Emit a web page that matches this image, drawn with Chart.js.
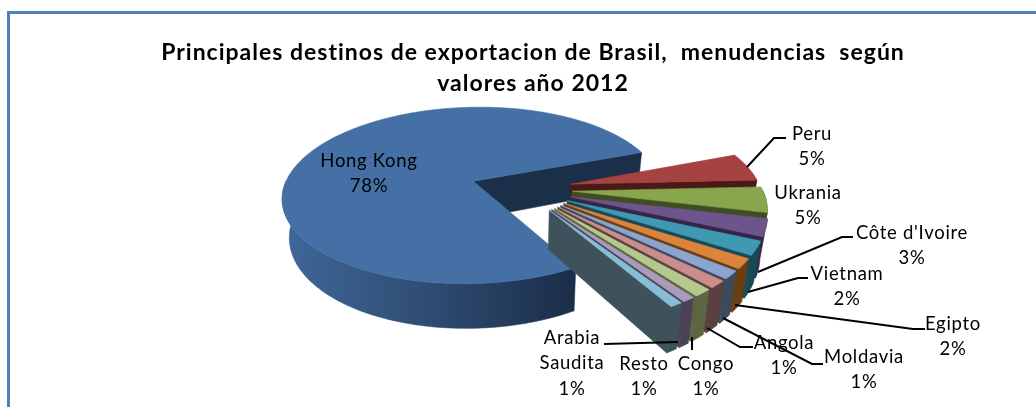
<!DOCTYPE html>
<html>
<head>
<meta charset="utf-8">
<style>
html,body{margin:0;padding:0;background:#fff;overflow:hidden}
#wrap{position:relative;width:1036px;height:407px;overflow:hidden}
#frame{position:absolute;left:7px;top:11px;width:1029px;height:400px;border-left:3px solid #4f81bd;border-top:3px solid #4f81bd;box-sizing:content-box}
canvas{position:absolute;left:0;top:0}
</style>
<script src="https://cdn.jsdelivr.net/npm/chart.js@4"></script>
</head>
<body>
<div id="wrap"><div id="frame"></div><canvas id="c" width="1036" height="407"></canvas></div>
<script>
const categories = ["Hong Kong","Peru","Ukrania","Côte d'Ivoire","Vietnam","Egipto","Moldavia","Angola","Congo","Arabia Saudita","Resto"];
const shares = [78.0,5.0,4.5,3.0,2.4,1.7,1.4,1.3,1.3,0.9,0.9];
const titleLines = ["Principales destinos de exportacion de Brasil,  menudencias  según","valores año 2012"];
const topColors = ["#4470a6","#a54340","#88a64c","#6e548c","#3f99b1","#db843d","#8ba5d0","#cb8e8c","#b5c98e","#a99bbd","#86bfd5"];
const rimColors = ["#2f4d74","#4a1a18","#3f4d22","#33264a","#174a55","#693e13","#3c4a5c","#5c3f3f","#5c6640","#4b4258","#3f525b"];

// 3D view of the pie
const view = {x0:521,y0:189,rx:190,ry:88.5,p:0.164,depth:38,shrink:0.97,explode:0.27};
// label placement: centre x, first line y, wrapped lines, leader polyline
const labelLayout = {
  "Hong Kong":{x:369,y:161,lines:["Hong Kong"]},
  "Peru":{x:812,y:134,lines:["Peru"],lead:[[747,167],[774,138],[786,138]]},
  "Ukrania":{x:808,y:193,lines:["Ukrania"]},
  "Côte d'Ivoire":{x:912,y:233,lines:["Côte d'Ivoire"],lead:[[758,272],[842,237],[853,237]]},
  "Vietnam":{x:847,y:274,lines:["Vietnam"],lead:[[748,292],[798,278],[808,278]]},
  "Egipto":{x:953,y:324,lines:["Egipto"],lead:[[735,305],[913,329],[925,329]]},
  "Moldavia":{x:864,y:357,lines:["Moldavia"],lead:[[723,318],[812,364],[823,364]]},
  "Angola":{x:784,y:343,lines:["Angola"],lead:[[707,328],[740,347],[753,347]]},
  "Congo":{x:706,y:364,lines:["Congo"],lead:[[692,337],[692,350]]},
  "Arabia Saudita":{x:572,y:338,lines:["Arabia","Saudita"],lead:[[604,344],[678,342]]},
  "Resto":{x:644,y:364,lines:["Resto"]}
};

function project(u,v,z){
  const s=1/(1-view.p*v), k=1-(1-view.shrink)*z;
  return [view.x0+view.rx*u*s*k, view.y0+view.ry*v*s+view.depth*z*s];
}
function poly(ctx,pts,fill){
  ctx.beginPath();
  pts.forEach((p,i)=>i?ctx.lineTo(p[0],p[1]):ctx.moveTo(p[0],p[1]));
  ctx.closePath();
  ctx.fillStyle=fill;ctx.strokeStyle=fill;ctx.lineWidth=0.6;
  ctx.fill();ctx.stroke();
}
function rimPts(a0,a1,ox,oy,z){
  const pts=[],n=Math.max(6,Math.ceil((a1-a0)*60));
  for(let i=0;i<=n;i++){const a=a0+(a1-a0)*i/n;pts.push(project(ox+Math.cos(a),oy+Math.sin(a),z));}
  return pts;
}
function drawSlice(ctx,arc,i){
  const a0=arc.startAngle,a1=arc.endAngle,mid=(a0+a1)/2;
  const ox=view.explode*Math.cos(mid),oy=view.explode*Math.sin(mid);
  const apexT=project(ox,oy,0),apexB=project(ox,oy,1);
  const eT=project(ox+Math.cos(a1),oy+Math.sin(a1),0),eB=project(ox+Math.cos(a1),oy+Math.sin(a1),1);
  const faceFill=i===0?"#1c2f49":rimColors[i];
  poly(ctx,[apexT,eT,eB,apexB],faceFill);
  const TAU=Math.PI*2;
  for(let k=-1;k<=1;k++){
    const lo=Math.max(a0,k*TAU),hi=Math.min(a1,k*TAU+Math.PI);
    if(hi>lo){
      const t=rimPts(lo,hi,ox,oy,0),b=rimPts(lo,hi,ox,oy,1).reverse();
      let fill=rimColors[i];
      if(i===0){
        const g=ctx.createLinearGradient(285,0,578,0);
        g.addColorStop(0,"#3f6798");g.addColorStop(0.5,"#2e4b72");g.addColorStop(1,"#1a2d47");
        fill=g;
      }
      poly(ctx,t.concat(b),fill);
    }
  }
  poly(ctx,[apexT].concat(rimPts(a0,a1,ox,oy,0)),topColors[i]);
}
const pie3d={
  id:'pie3d',
  beforeDraw(chart){chart.ctx.letterSpacing="1px";},
  beforeDatasetsDraw(chart){
    const ctx=chart.ctx,meta=chart.getDatasetMeta(0);
    ctx.save();
    meta.data.forEach((arc,i)=>drawSlice(ctx,arc,i));
    ctx.restore();
    return false;
  },
  afterDraw(chart){
    const ctx=chart.ctx,values=chart.data.datasets[0].data;
    ctx.save();
    ctx.strokeStyle="#000";ctx.lineWidth=2;ctx.lineJoin='miter';
    chart.data.labels.forEach(name=>{
      const l=labelLayout[name].lead;
      if(!l)return;
      ctx.beginPath();
      l.forEach((p,i)=>i?ctx.lineTo(p[0],p[1]):ctx.moveTo(p[0],p[1]));
      ctx.stroke();
    });
    ctx.letterSpacing="0.7px";
    ctx.fillStyle="#000";ctx.font="18.5px Lato";ctx.textAlign="center";ctx.textBaseline="middle";
    chart.data.labels.forEach((name,i)=>{
      const l=labelLayout[name];
      const lines=l.lines.concat([Math.round(values[i])+"%"]);
      lines.forEach((t,j)=>ctx.fillText(t,l.x,l.y+j*25.5));
    });
    ctx.restore();
  }
};
Chart.register(pie3d);
new Chart(document.getElementById('c'),{
  type:'pie',
  data:{labels:categories,datasets:[{data:shares,backgroundColor:topColors,borderWidth:0,rotation:149.6}]},
  options:{
    responsive:false,animation:false,
    layout:{padding:{left:30}},
    plugins:{
      legend:{display:false},tooltip:{enabled:false},
      title:{display:true,text:titleLines,fullSize:false,color:"#000",
        font:{family:"Lato",size:23,weight:"bold",lineHeight:1.35},padding:{top:37,bottom:10}}
    }
  }
});
</script>
</body>
</html>
